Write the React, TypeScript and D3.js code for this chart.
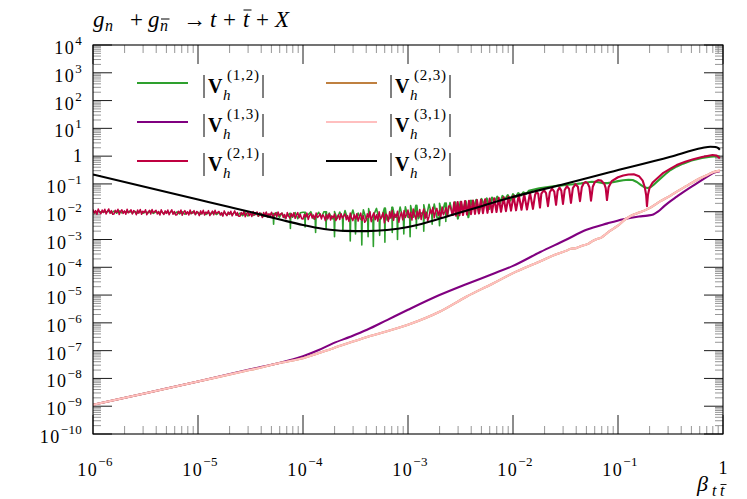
import React from 'react';
import * as d3 from 'd3';

// all curves are given as [log10(beta), log10(|V|)]

// sampling grids of the noisy low-beta part
const fineLogBeta = d3.range(273).map((i) => -6 + 0.0125 * i);
const coarseLogBeta = d3.range(137).map((i) => -6 + 0.025 * i);

// |V^(2,1)| on the fine grid, -6 .. -2.6
const redNoise = [
  -1.92, -2.05, -1.96, -2.09, -1.9, -2.01, -2.07, -1.94, -2.03, -1.91, -2.08, -1.98, -1.9, -2.06, -1.96, -2.09,
  -2.08, -1.95, -2.02, -1.91, -2.1, -1.99, -1.93, -2.06, -1.97, -2.09, -1.91, -2.04, -2.0, -1.93, -2.08, -1.96,
  -2.0, -2.11, -1.94, -2.05, -1.92, -2.09, -1.98, -2.03, -1.93, -2.11, -2.02, -1.95, -2.08, -1.92, -2.04, -1.99,
  -1.95, -2.08, -1.99, -2.12, -1.93, -2.04, -2.1, -1.97, -2.06, -1.94, -2.11, -2.01, -1.93, -2.09, -1.99, -2.12,
  -2.11, -1.98, -2.05, -1.94, -2.13, -2.02, -1.96, -2.09, -2.0, -2.12, -1.94, -2.07, -2.04, -1.96, -2.11, -1.99,
  -2.03, -2.14, -1.97, -2.08, -1.95, -2.12, -2.01, -2.06, -1.96, -2.14, -2.05, -1.98, -2.11, -1.95, -2.07, -2.02,
  -1.99, -2.12, -2.03, -2.16, -1.97, -2.08, -2.14, -2.01, -2.1, -1.98, -2.15, -2.05, -1.97, -2.13, -2.03, -2.16,
  -2.16, -2.03, -2.1, -1.99, -2.18, -2.07, -2.01, -2.14, -2.05, -2.17, -1.99, -2.12, -2.09, -2.01, -2.16, -2.04,
  -2.09, -2.21, -2.03, -2.15, -2.01, -2.19, -2.07, -2.13, -2.02, -2.21, -2.11, -2.04, -2.18, -2.01, -2.14, -2.08,
  -2.05, -2.21, -2.1, -2.25, -2.03, -2.16, -2.23, -2.07, -2.18, -2.04, -2.24, -2.12, -2.03, -2.22, -2.1, -2.25,
  -2.26, -2.1, -2.19, -2.05, -2.28, -2.14, -2.07, -2.23, -2.12, -2.27, -2.05, -2.21, -2.17, -2.07, -2.26, -2.11,
  -2.17, -2.32, -2.1, -2.25, -2.07, -2.3, -2.15, -2.22, -2.08, -2.32, -2.2, -2.11, -2.28, -2.07, -2.23, -2.16,
  -2.08, -2.29, -2.14, -2.35, -2.05, -2.23, -2.32, -2.11, -2.26, -2.07, -2.34, -2.17, -2.05, -2.31, -2.14, -2.38,
  -2.32, -2.07, -2.22, -2.0, -2.36, -2.14, -2.04, -2.29, -2.11, -2.34, -2.0, -2.25, -2.18, -2.04, -2.4, -2.09,
  -2.12, -2.35, -2.0, -2.23, -1.96, -2.31, -2.08, -2.19, -1.98, -2.38, -2.16, -2.02, -2.29, -1.96, -2.21, -2.1,
  -1.94, -2.22, -2.02, -2.3, -1.9, -2.14, -2.26, -1.98, -2.18, -1.92, -2.28, -2.06, -1.9, -2.24, -2.02, -2.33,
  -2.18, -1.92, -2.07, -1.84, -2.22, -1.99, -1.88, -2.14, -1.95, -2.2, -1.83, -2.11, -2.0, -1.85, -2.17, -1.8, -1.78,
];

// |V^(1,2)| on the coarse grid, -6 .. -2.6 (mostly hidden under the red band)
const greenNoise = [
  -1.98, -2.04, -1.97, -2.03, -1.99, -2.02, -1.96, -2.04,
  -1.98, -2.05, -1.97, -2.04, -1.99, -2.03, -1.98, -2.05,
  -1.99, -2.05, -1.98, -2.06, -2.0, -2.04, -1.98, -2.06,
  -2.0, -2.06, -1.99, -2.07, -2.01, -2.05, -1.99, -2.07,
  -2.01, -2.08, -2.0, -2.09, -2.02, -2.07, -2.0, -2.09,
  -2.02, -2.09, -2.01, -2.1, -2.03, -2.08, -2.01, -2.1,
  -2.03, -2.11, -2.02, -2.12, -2.04, -2.1, -2.02, -2.13,
  -2.05, -2.14, -2.04, -2.15, -2.06, -2.13, -2.04, -2.16,
  -2.06, -2.17, -2.04, -2.19, -2.07, -2.16, -2.03, -2.2,
  -2.05, -2.22, -2.15, -2.06, -2.2, -2.03, -2.25, -2.04,
  -2.02, -2.2, -2.1, -2.0, -2.25, -2.15, -2.02, -2.2,
  -2.0, -2.3, -2.05, -2.25, -1.99, -2.25, -2.01, -2.2,
  -1.96, -2.25, -2.2, -1.94, -2.3, -2.05, -2.28, -1.93,
  -2.25, -1.89, -2.3, -2.1, -1.88, -2.3, -2.2, -1.87,
  -2.3, -2.25, -1.84, -2.2, -2.3, -1.83, -2.25, -1.82,
  -2.2, -1.78, -2.2, -1.77, -2.25, -2.05, -1.75, -2.2,
  -1.73, -2.1, -1.72, -2.2, -1.7, -2.05, -1.69, -2.15, -1.67,
];

// thin downward spikes of |V^(1,2)|: [log10 beta, log10 |V| at the tip]
const greenSpikes: [number, number][] = [
  [-4.28, -2.45], [-4.12, -2.6], [-3.98, -2.55], [-3.88, -2.75], [-3.78, -2.6], [-3.7, -2.9],
  [-3.62, -2.7], [-3.55, -3.05], [-3.5, -2.8], [-3.44, -3.2], [-3.38, -2.9], [-3.33, -3.25],
  [-3.27, -2.85], [-3.22, -3.1], [-3.15, -2.75], [-3.1, -3.0], [-3.04, -2.8], [-2.98, -2.9],
  [-2.92, -2.6], [-2.85, -2.7], [-2.77, -2.45], [-2.7, -2.5], [-2.64, -2.35],
];

const redOsc: [number, number][] = [
  [-2.576, -2.15], [-2.56, -1.66], [-2.543, -2.14], [-2.527, -1.65], [-2.51, -2.13],
  [-2.493, -1.64], [-2.476, -2.12], [-2.457, -1.62], [-2.438, -2.1], [-2.419, -1.61],
  [-2.4, -2.09], [-2.381, -1.6], [-2.362, -2.08], [-2.343, -1.58], [-2.324, -2.06],
  [-2.305, -1.57], [-2.286, -2.05], [-2.265, -1.55], [-2.243, -2.04], [-2.222, -1.53],
  [-2.2, -2.02], [-2.179, -1.52], [-2.157, -2.01], [-2.136, -1.5], [-2.114, -2.0],
  [-2.09, -1.48], [-2.067, -1.98], [-2.043, -1.46], [-2.019, -1.96], [-1.995, -1.43],
  [-1.971, -1.95], [-1.945, -1.4], [-1.919, -1.93], [-1.893, -1.37], [-1.867, -1.92],
  [-1.838, -1.32], [-1.81, -1.9],
  [-1.79, -1.4], [-1.776, -1.28], [-1.76, -1.35], [-1.743, -1.85],
  [-1.73, -1.35], [-1.705, -1.22], [-1.685, -1.33], [-1.667, -1.8],
  [-1.65, -1.3], [-1.628, -1.17], [-1.607, -1.28], [-1.59, -1.75],
  [-1.575, -1.25], [-1.557, -1.13], [-1.54, -1.24], [-1.524, -1.72],
  [-1.508, -1.22], [-1.486, -1.08], [-1.466, -1.18], [-1.448, -1.68],
  [-1.43, -1.15], [-1.405, -1.01], [-1.382, -1.1], [-1.362, -1.62],
  [-1.345, -1.12], [-1.325, -0.97], [-1.31, -0.93], [-1.29, -0.97], [-1.272, -1.12], [-1.257, -1.6],
  [-1.24, -1.1], [-1.22, -0.93], [-1.19, -0.86], [-1.16, -0.88], [-1.13, -1.0], [-1.117, -1.15],
  [-1.105, -1.58],
  [-1.09, -1.12], [-1.06, -0.9], [-1.0, -0.76], [-0.95, -0.7], [-0.9, -0.66], [-0.85, -0.65],
  [-0.8, -0.72], [-0.765, -0.88], [-0.745, -1.12], [-0.732, -1.4], [-0.724, -1.8],
  [-0.715, -1.4], [-0.7, -1.15], [-0.67, -0.95], [-0.62, -0.78], [-0.568, -0.6], [-0.5, -0.45],
  [-0.441, -0.32], [-0.36, -0.2], [-0.283, -0.11], [-0.2, -0.03], [-0.1, 0.04], [-0.06, 0.02],
  [-0.03, -0.08],
];

const greenOsc: [number, number][] = [
  [-2.575, -2.1], [-2.55, -1.66], [-2.525, -2.25], [-2.5, -1.64], [-2.475, -1.95],
  [-2.45, -1.62], [-2.425, -2.2], [-2.4, -1.6], [-2.375, -1.85], [-2.35, -1.57],
  [-2.325, -2.05], [-2.3, -1.54], [-2.275, -1.75], [-2.25, -1.52], [-2.225, -1.9],
  [-2.2, -1.49], [-2.175, -1.65], [-2.15, -1.46], [-2.125, -1.7], [-2.1, -1.43],
  [-2.075, -1.55], [-2.05, -1.4], [-2.025, -1.6], [-2.0, -1.37], [-1.975, -1.48],
  [-1.95, -1.33], [-1.925, -1.42], [-1.9, -1.3], [-1.875, -1.36], [-1.85, -1.25],
  [-1.8, -1.2], [-1.75, -1.16], [-1.7, -1.13], [-1.65, -1.1], [-1.6, -1.08],
  [-1.55, -1.06], [-1.5, -1.04], [-1.45, -1.02], [-1.4, -1.0], [-1.35, -0.98],
  [-1.3, -0.95], [-1.25, -0.92], [-1.2, -0.93], [-1.15, -0.97], [-1.1, -0.97],
  [-1.05, -0.94], [-1.0, -0.9], [-0.95, -0.87], [-0.9, -0.85], [-0.86, -0.86],
  [-0.82, -0.93], [-0.78, -1.04], [-0.75, -1.12], [-0.72, -1.15], [-0.69, -1.12],
  [-0.66, -1.03], [-0.6, -0.82], [-0.55, -0.65], [-0.5, -0.5], [-0.44, -0.37],
  [-0.38, -0.27], [-0.3, -0.16], [-0.2, -0.07], [-0.12, -0.02], [-0.06, 0.0], [-0.03, -0.01],
];

const purpleCurve: [number, number][] = [
  [-6, -8.95], [-5.5, -8.53], [-5, -8.11], [-4.5, -7.67], [-4.2, -7.42], [-4.0, -7.2],
  [-3.85, -6.98], [-3.71, -6.73], [-3.55, -6.5], [-3.39, -6.25], [-3.2, -5.9], [-3.0, -5.53],
  [-2.7, -5.0], [-2.44, -4.6], [-2.2, -4.25], [-2.0, -3.95], [-1.74, -3.45], [-1.5, -3.02],
  [-1.3, -2.65], [-1.1, -2.42], [-0.95, -2.27], [-0.8, -2.17], [-0.72, -2.14], [-0.664, -2.1],
  [-0.62, -2.0], [-0.56, -1.8], [-0.5, -1.62], [-0.44, -1.46], [-0.35, -1.22], [-0.25, -0.98],
  [-0.15, -0.74], [-0.09, -0.6], [-0.03, -0.54],
];

const pinkCurve: [number, number][] = [
  [-6, -8.95], [-5.5, -8.53], [-5, -8.11], [-4.5, -7.69], [-4.2, -7.43], [-4.0, -7.27],
  [-3.71, -6.91], [-3.39, -6.51], [-3.0, -6.07], [-2.7, -5.6], [-2.44, -5.05], [-2.2, -4.6],
  [-2.0, -4.21], [-1.75, -3.8], [-1.6, -3.55], [-1.49, -3.4], [-1.45, -3.33], [-1.4, -3.31],
  [-1.36, -3.25], [-1.32, -3.2], [-1.28, -3.15], [-1.24, -3.05], [-1.2, -2.98], [-1.16, -2.93],
  [-1.12, -2.82], [-1.08, -2.7], [-1.04, -2.6], [-1.0, -2.5], [-0.95, -2.33], [-0.9, -2.2],
  [-0.85, -2.1], [-0.8, -2.03], [-0.75, -1.96], [-0.7, -1.87], [-0.6, -1.63], [-0.5, -1.42],
  [-0.44, -1.28], [-0.35, -1.08], [-0.25, -0.86], [-0.15, -0.68], [-0.09, -0.57], [-0.03, -0.52],
];

const blackCurve: [number, number][] = [
  [-6, -0.66], [-5.5, -1.11], [-5, -1.56], [-4.7, -1.83], [-4.46, -2.05], [-4.2, -2.3],
  [-4.0, -2.48], [-3.8, -2.62], [-3.6, -2.69], [-3.4, -2.7], [-3.2, -2.66], [-3.0, -2.55],
  [-2.79, -2.35], [-2.6, -2.14], [-2.3, -1.8], [-2.03, -1.5], [-1.5, -0.99], [-1.08, -0.58],
  [-0.5, -0.02], [-0.2, 0.29], [-0.12, 0.34], [-0.07, 0.33], [-0.045, 0.29], [-0.03, 0.23],
];

const legendLabels = ['(1,2)', '(1,3)', '(2,1)', '(2,3)', '(3,1)', '(3,2)'];
const seriesColors = ['#2ea02e', '#800080', '#bf0040', '#bf8040', '#ffbfbf', '#000000'];

const xTickExps = [-6, -5, -4, -3, -2, -1, 0];
const yTickExps = [4, 3, 2, 1, 0, -1, -2, -3, -4, -5, -6, -7, -8, -9, -10];

const W = 747;
const H = 499;
const margin = { top: 45, right: 24, bottom: 65, left: 93 };
const FONT = "'Liberation Serif', 'DejaVu Serif', serif";

const expText = (e: number) => (e < 0 ? '\u2212' + Math.abs(e) : String(e));

type Pt = [number, number];

const App = () => {
  const x = d3
    .scaleLog()
    .domain([1e-6, 1])
    .range([margin.left, W - margin.right]);
  const y = d3
    .scaleLog()
    .domain([1e-10, 1e4])
    .range([H - margin.bottom, margin.top]);

  const straight = d3
    .line<Pt>()
    .x((d) => x(Math.pow(10, d[0])))
    .y((d) => y(Math.pow(10, d[1])));
  const smooth = d3
    .line<Pt>()
    .x((d) => x(Math.pow(10, d[0])))
    .y((d) => y(Math.pow(10, d[1])))
    .curve(d3.curveMonotoneX);

  const redNoisePts: Pt[] = fineLogBeta.map((b, i) => [b, redNoise[i]]);

  // green noise with its thin spikes slotted in
  const greenNoisePts: Pt[] = [];
  let s = 0;
  coarseLogBeta.forEach((b, i) => {
    while (s < greenSpikes.length && greenSpikes[s][0] < b) {
      const base = greenNoise[Math.max(0, i - 1)];
      const [sb, sv] = greenSpikes[s];
      greenNoisePts.push([sb - 0.004, base], [sb, sv], [sb + 0.004, base]);
      s++;
    }
    greenNoisePts.push([b, greenNoise[i]]);
  });

  const curves: { noise?: Pt[]; main: Pt[]; smooth: boolean }[] = [
    { noise: greenNoisePts, main: greenOsc, smooth: false },
    { main: purpleCurve, smooth: true },
    { noise: redNoisePts, main: redOsc, smooth: false },
    { main: pinkCurve, smooth: true },
    { main: pinkCurve, smooth: true },
    { main: blackCurve, smooth: true },
  ];

  const [x0, x1] = x.range();
  const [y0, y1] = y.range();

  const xMinor: number[] = [];
  xTickExps.slice(0, -1).forEach((e) => {
    for (let k = 2; k <= 9; k++) xMinor.push(k * Math.pow(10, e));
  });
  const yMinor: number[] = [];
  yTickExps.slice(1).forEach((e) => {
    for (let k = 2; k <= 9; k++) yMinor.push(k * Math.pow(10, e));
  });

  const majorLen = 19;
  const minorLen = 8;

  const legendRows = [83, 122, 161];
  const legendCols = [
    { lx: 137, tx: 203 },
    { lx: 326, tx: 390 },
  ];

  return (
    <svg
      width={W}
      height={H}
      style={{ position: 'absolute', left: 0, top: 0, background: '#fff' }}
      fontFamily={FONT}
    >
      <defs>
        <clipPath id="plot">
          <rect x={x0} y={y1} width={x1 - x0} height={y0 - y1} />
        </clipPath>
      </defs>

      {/* minor ticks */}
      <g stroke="#8a8a8a" strokeWidth={0.9}>
        {xMinor.map((v) => (
          <g key={'xm' + v}>
            <line x1={x(v)} x2={x(v)} y1={y0} y2={y0 - minorLen} />
            <line x1={x(v)} x2={x(v)} y1={y1} y2={y1 + minorLen} />
          </g>
        ))}
        {yMinor.map((v) => (
          <g key={'ym' + v}>
            <line x1={x0} x2={x0 + minorLen} y1={y(v)} y2={y(v)} />
            <line x1={x1} x2={x1 - minorLen} y1={y(v)} y2={y(v)} />
          </g>
        ))}
      </g>
      {/* major ticks */}
      <g stroke="#000" strokeWidth={0.9}>
        {xTickExps.map((e) => {
          const px = x(Math.pow(10, e));
          return (
            <g key={'xM' + e}>
              <line x1={px} x2={px} y1={y0} y2={y0 - majorLen} />
              <line x1={px} x2={px} y1={y1} y2={y1 + majorLen} />
            </g>
          );
        })}
        {yTickExps.map((e) => {
          const py = y(Math.pow(10, e));
          return (
            <g key={'yM' + e}>
              <line x1={x0} x2={x0 + majorLen} y1={py} y2={py} />
              <line x1={x1} x2={x1 - majorLen} y1={py} y2={py} />
            </g>
          );
        })}
      </g>

      {/* curves */}
      <g clipPath="url(#plot)" fill="none" strokeLinejoin="round">
        {curves.map((c, i) => (
          <g key={legendLabels[i]} stroke={seriesColors[i]}>
            {c.noise && (
              <path d={straight(c.noise.concat(c.main.slice(0, 1))) ?? ''} strokeWidth={i === 2 ? 1.5 : 1.6} />
            )}
            <path d={(c.smooth ? smooth(c.main) : straight(c.main)) ?? ''} strokeWidth={2.1} />
          </g>
        ))}
      </g>

      {/* frame */}
      <rect x={x0} y={y1} width={x1 - x0} height={y0 - y1} fill="none" stroke="#000" strokeWidth={1.1} />

      {/* y tick labels */}
      {yTickExps.map((e) => {
        const py = y(Math.pow(10, e));
        if (e === 0)
          return (
            <text key={'yl' + e} x={82} y={py + 6} fontSize={18} textAnchor="end">
              1
            </text>
          );
        return (
          <text key={'yl' + e} x={82} y={py + 9} fontSize={18} textAnchor="end" letterSpacing={1.5}>
            10
            <tspan dy={-9} fontSize={13} letterSpacing={0.3}>
              {expText(e)}
            </tspan>
          </text>
        );
      })}

      {/* x tick labels */}
      {xTickExps.map((e) => {
        const px = x(Math.pow(10, e));
        if (e === 0)
          return (
            <text key={'xl' + e} x={px} y={474} fontSize={18} textAnchor="middle">
              1
            </text>
          );
        return (
          <text key={'xl' + e} x={px + 2} y={476} fontSize={18} textAnchor="middle" letterSpacing={1.5}>
            10
            <tspan dy={-10} fontSize={13} letterSpacing={0.3}>
              {expText(e)}
            </tspan>
          </text>
        );
      })}

      {/* title */}
      <g fontSize={23}>
        <text x={93} y={27} fontStyle="italic">g</text>
        <text x={105} y={31} fontSize={16} fontStyle="italic">n</text>
        <text x={130} y={27}>+</text>
        <text x={148} y={27} fontStyle="italic">g</text>
        <text x={160} y={31} fontSize={16} fontStyle="italic">n</text>
        <line x1={161} x2={169.5} y1={19} y2={19} stroke="#000" strokeWidth={1} />
        <text x={183} y={27}>{'\u2192'}</text>
        <text x={210} y={27} fontStyle="italic">t</text>
        <text x={223} y={27}>+</text>
        <text x={243} y={27} fontStyle="italic">t</text>
        <line x1={243.5} x2={251.5} y1={10} y2={10} stroke="#000" strokeWidth={1} />
        <text x={256} y={27}>+</text>
        <text x={275} y={27} fontStyle="italic">X</text>
      </g>

      {/* x axis label */}
      <text x={697} y={491} fontSize={22} fontStyle="italic">
        {'\u03b2'}
      </text>
      <text x={712} y={496} fontSize={16} fontStyle="italic">
        t
      </text>
      <text x={720} y={496} fontSize={16} fontStyle="italic">
        t
      </text>
      <line x1={720.5} x2={726.5} y1={484.5} y2={484.5} stroke="#000" strokeWidth={0.9} />

      {/* legend */}
      {legendLabels.map((lab, i) => {
        const col = legendCols[Math.floor(i / 3)];
        const ly = legendRows[i % 3];
        return (
          <g key={'lg' + lab}>
            <line x1={col.lx} x2={col.lx + 51} y1={ly} y2={ly} stroke={seriesColors[i]} strokeWidth={1.9} />
            <line x1={col.tx + 1} x2={col.tx + 1} y1={ly - 8} y2={ly + 15} stroke="#000" strokeWidth={1} />
            <text x={col.tx + 5} y={ly + 10} fontSize={20} fontWeight="bold">
              V
            </text>
            <text x={col.tx + 20} y={ly + 17} fontSize={15} fontStyle="italic">
              h
            </text>
            <text x={col.tx + 24} y={ly - 3} fontSize={15} letterSpacing={0.8}>
              {lab}
            </text>
            <line x1={col.tx + 60} x2={col.tx + 60} y1={ly - 8} y2={ly + 15} stroke="#000" strokeWidth={1} />
          </g>
        );
      })}
    </svg>
  );
};

export default App;
